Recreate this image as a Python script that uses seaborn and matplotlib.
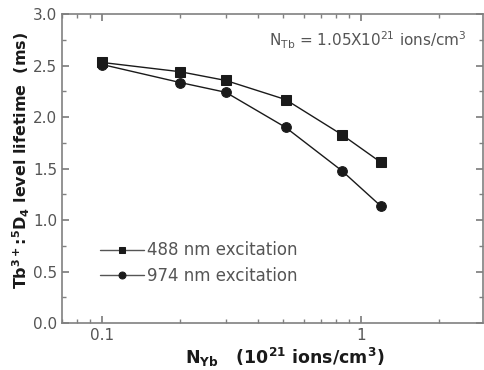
import matplotlib
matplotlib.use("Agg")
import matplotlib.pyplot as plt
import seaborn as sns
import pandas as pd
from matplotlib.ticker import FixedLocator, MultipleLocator, NullFormatter, FixedFormatter

sns.set_theme(style="ticks")
plt.rcParams['font.family'] = ['DejaVu Sans']
plt.rcParams['mathtext.fontset'] = 'dejavusans'

n_yb = [0.1, 0.2, 0.3, 0.51, 0.84, 1.19]
life_488 = [2.53, 2.44, 2.355, 2.17, 1.83, 1.56]
life_974 = [2.51, 2.335, 2.24, 1.90, 1.48, 1.135]
series = ["488 nm excitation", "974 nm excitation"]

df = pd.DataFrame({
    "x": n_yb * 2,
    "y": life_488 + life_974,
    "s": [series[0]] * len(n_yb) + [series[1]] * len(n_yb),
})

fig = plt.figure(figsize=(4.85, 3.7), dpi=100)
ax = fig.add_axes([0.128, 0.127, 0.868, 0.835])
ink = "#1a1a1a"
sns.lineplot(data=df, x="x", y="y", hue="s", style="s", markers=["s", "o"],
             dashes=False, palette=[ink, ink], markersize=7, linewidth=1.0,
             markeredgecolor=ink, ax=ax)
ax.set_xscale("log")
ax.set_xlim(0.07, 2.95)
ax.set_ylim(0, 3.0)
ax.xaxis.set_major_locator(FixedLocator([0.1, 1]))
ax.xaxis.set_major_formatter(FixedFormatter(["0.1", "1"]))
ax.xaxis.set_minor_formatter(NullFormatter())
ax.yaxis.set_major_locator(MultipleLocator(0.5))
ax.yaxis.set_minor_locator(MultipleLocator(0.25))
ax.yaxis.set_major_formatter(matplotlib.ticker.FormatStrFormatter("%.1f"))

frame = "#808080"
for sp in ax.spines.values():
    sp.set_color(frame)
    sp.set_linewidth(1.2)
ax.tick_params(which="both", direction="in", top=True, right=True, colors=frame,
               labelcolor="#555555", labelsize=11)
ax.tick_params(which="major", length=5)
ax.tick_params(which="minor", length=3)

ax.set_xlabel(r"N$_{\mathbf{Yb}}$   (10$^{\mathbf{21}}$ ions/cm$^{\mathbf{3}}$)",
              fontsize=12.5, fontweight="bold", color=ink, labelpad=2)
ax.xaxis.set_label_coords(0.53, -0.075, transform=ax.transAxes)
ax.xaxis.label.set_va("top")
ax.set_ylabel(r"Tb$^{\mathbf{3+}}$:$^{\mathbf{5}}$D$_{\mathbf{4}}$ level lifetime  (ms)",
              fontsize=11.5, fontweight="bold", color=ink, labelpad=1)
ax.yaxis.set_label_coords(-0.097, 0.525, transform=ax.transAxes)
ax.yaxis.label.set_va("center")

ax.text(0.96, 0.915, r"N$_{\mathrm{Tb}}$ = 1.05X10$^{21}$ ions/cm$^{3}$",
        transform=ax.transAxes, ha="right", va="center", fontsize=11, color="#555555")

leg = ax.legend(loc="lower left", bbox_to_anchor=(0.055, 0.075), frameon=False,
                fontsize=12, handlelength=2.6, handletextpad=0.2, labelspacing=0.45)
for t in leg.get_texts():
    t.set_color("#555555")
for h in leg.get_lines():
    h.set_markersize(5)
    h.set_color("#555555")
    h.set_markerfacecolor(ink)
    h.set_markeredgecolor(ink)

fig.savefig("out.png", dpi=100)
